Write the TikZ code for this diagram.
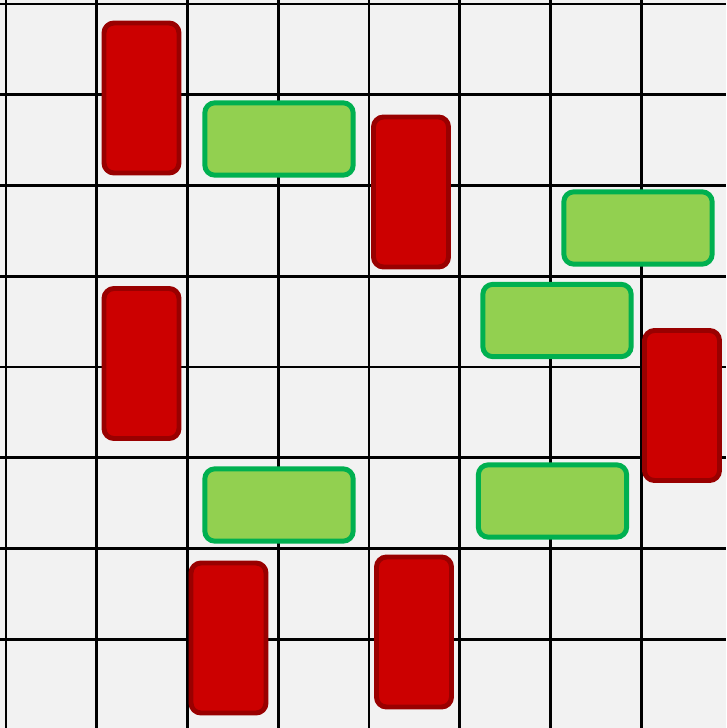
\documentclass[tikz,border=0pt]{standalone}
\usepackage{xcolor}
\usepackage{tikz}
\usetikzlibrary{positioning}

\definecolor{boardgray}{HTML}{F2F2F2}
\definecolor{carred}{HTML}{CC0000}
\definecolor{carredline}{HTML}{990000}
\definecolor{cargreen}{HTML}{92D050}
\definecolor{cargreenline}{HTML}{00B050}

\begin{document}
\begin{tikzpicture}[x=0.03cm, y=-0.03cm,
    gridline/.style={black, line width=2.5pt},
    redcar/.style={draw=carredline, fill=carred, line width=4.2pt, rounded corners=0.3cm,
      minimum width=2.25cm, minimum height=4.5cm, inner sep=0pt},
    greencar/.style={draw=cargreenline, fill=cargreen, line width=4.2pt, rounded corners=0.3cm,
      minimum width=4.45cm, minimum height=2.17cm, inner sep=0pt}]
          \useasboundingbox (0,0) rectangle (726,728);
          \fill[boardgray] (0,0) rectangle (726,728);

          % board
          \foreach \i in {0,...,7} {
            \draw[gridline] ({6+90.75*\i},0) -- ({6+90.75*\i},728);
            \draw[gridline] (0,{4+90.75*\i}) -- (726,{4+90.75*\i});
          }

          % vertical cars
          \node[redcar] (r1) at (141.5,98) {};
          \node[redcar] (r2) at (411,192) {};
          \node[redcar] (r3) at (141.5,363.5) {};
          \node[redcar] (r4) at (682,405.5) {};
          \node[redcar] (r5) at (228.5,638) {};
          \node[redcar] (r6) at (414,632) {};

          % horizontal cars
          \node[greencar] (g1) at (279,139) {};
          \node[greencar] (g2) at (638,228) {};
          \node[greencar] (g3) at (557,320.5) {};
          \node[greencar] (g4) at (279,505) {};
          \node[greencar] (g5) at (552.5,501) {};
        \end{tikzpicture}
\end{document}
